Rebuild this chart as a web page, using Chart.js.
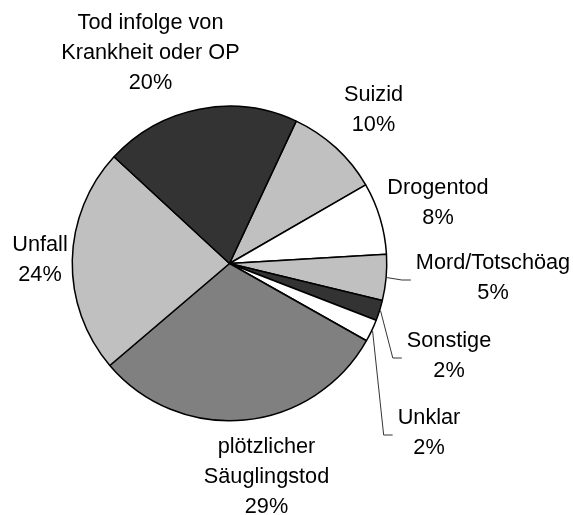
<!DOCTYPE html>
<html>
<head>
<meta charset="utf-8">
<script src="https://cdn.jsdelivr.net/npm/chart.js@4/dist/chart.umd.min.js"></script>
<style>
    body { margin: 0; background: #fff; }
    #wrap { width: 573px; height: 515px; }
</style>
</head>
<body>
<div id="wrap"><canvas id="pie-chart" width="573" height="515"></canvas></div>
<script>
var categories = [
    ["Suizid"],
    ["Drogentod"],
    ["Mord/Totschöag"],
    ["Sonstige"],
    ["Unklar"],
    ["plötzlicher", "Säuglingstod"],
    ["Unfall"],
    ["Tod infolge von", "Krankheit oder OP"]
];
var shares = [9.7, 7.4, 4.7, 2.1, 2.3, 30.6, 23.1, 20.1];
// percentages as printed in the picture
var percent_labels = ["10%", "8%", "5%", "2%", "2%", "29%", "24%", "20%"];

var slice_colors = ["#c0c0c0", "#ffffff", "#c0c0c0", "#333333", "#ffffff", "#808080", "#c0c0c0", "#333333"];

// label block centre relative to pie centre, and whether a leader line is drawn
var label_offsets = [
    [144, -153.5], [208.5, -60.5], [263.5, 14.5], [219.5, 92.5],
    [199.5, 169.5], [37, 213.5], [-189.5, -3.5], [-79, -210.5]
];
var with_leader = [false, false, true, true, true, false, false, false];

const LINE_H = 30;
const FONT = "21.7px 'Liberation Sans', Arial, sans-serif";

const labelsPlugin = {
    id: "pieLabels",
    afterDraw: (chart) => {
        const ctx = chart.ctx;
        const arcs = chart.getDatasetMeta(0).data;

        ctx.save();
        ctx.font = FONT;
        ctx.fillStyle = "#000";
        ctx.textAlign = "center";
        ctx.textBaseline = "middle";

        arcs.forEach((arc, i) => {
            const lines = categories[i].concat([percent_labels[i]]);
            const cx = arc.x + label_offsets[i][0];
            const cy = arc.y + label_offsets[i][1];
            const top = cy - (lines.length - 1) * LINE_H / 2;

            let left = Infinity;
            lines.forEach((t, k) => {
                ctx.fillText(t, cx, top + k * LINE_H);
                left = Math.min(left, cx - ctx.measureText(t).width / 2);
            });

            if (with_leader[i]) {
                const mid = (arc.startAngle + arc.endAngle) / 2;
                const r = arc.outerRadius + 1;
                ctx.beginPath();
                ctx.strokeStyle = "#000";
                ctx.lineWidth = 0.8;
                ctx.moveTo(arc.x + r * Math.cos(mid), arc.y + r * Math.sin(mid));
                ctx.lineTo(left - 14, cy + 2);
                ctx.lineTo(left - 5, cy + 2);
                ctx.stroke();
            }
        });
        ctx.restore();
    }
};

new Chart(document.getElementById("pie-chart"), {
    type: "pie",
    data: {
        labels: categories.map((c) => c.join(" ")),
        datasets: [{
            data: shares,
            backgroundColor: slice_colors,
            borderColor: "#000",
            borderWidth: 1.5
        }]
    },
    options: {
        responsive: false,
        animation: false,
        rotation: 25.1,
        layout: { padding: { left: 71.5, top: 105.5, right: 185.5, bottom: 93.5 } },
        plugins: {
            legend: { display: false },
            tooltip: { enabled: false }
        }
    },
    plugins: [labelsPlugin]
});
</script>
</body>
</html>
